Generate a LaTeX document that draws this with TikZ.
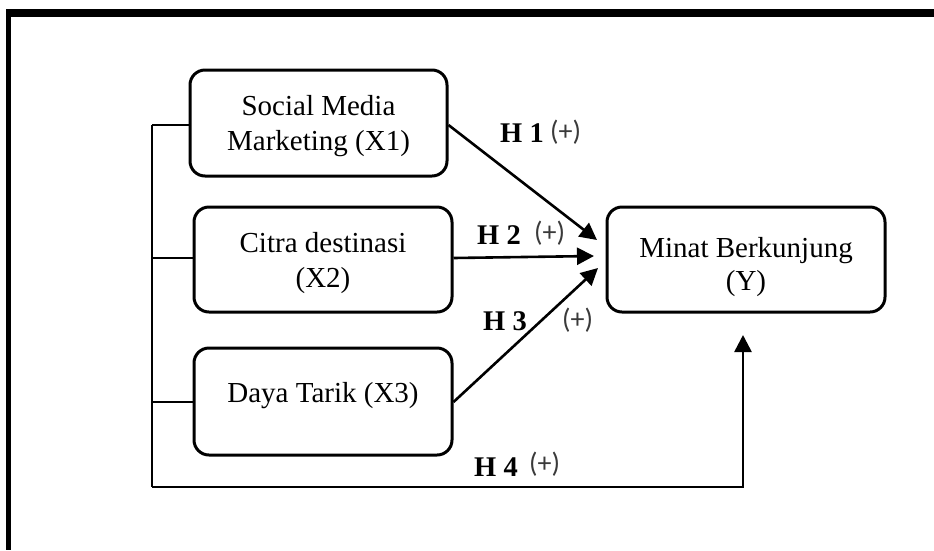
\documentclass[tikz,border=0pt]{standalone}
\usepackage{fontspec}
\setmainfont{Liberation Serif}
\newfontfamily\plusfont{Carlito}
\usetikzlibrary{arrows.meta}
\definecolor{plusgray}{HTML}{3a3a3a}
\begin{document}
\begin{tikzpicture}[x=1pt,y=-1pt,
  varbox/.style={draw, line width=3pt, rounded corners=15pt, inner sep=0pt,
    align=center, font=\fontsize{29}{35}\selectfont},
  conn/.style={line width=2.6pt},
  arr/.style={line width=2.6pt, -{Triangle[length=17pt,width=17pt]}},
  hlab/.style={inner sep=0pt, anchor=base west, font=\fontsize{28.5}{34}\selectfont\bfseries},
  plab/.style={inner sep=0pt, anchor=base west, text=plusgray, font=\fontsize{28}{32}\selectfont\plusfont}]
\useasboundingbox (0,0) rectangle (934,550);
% frame
\fill[black] (6,9) rectangle (934,17);
\fill[black] (6,9) rectangle (11,550);
% boxes
\node[varbox, minimum width=257pt, minimum height=106pt, text height=60pt, text depth=6pt] (x1) at (318.5,123) {Social Media\\Marketing (X1)};
\node[varbox, minimum width=258pt, minimum height=105pt, text height=61pt, text depth=6pt] (x2) at (323,259.5) {Citra destinasi\\(X2)};
\node[varbox, minimum width=258pt, minimum height=107pt, text height=20pt, text depth=19pt] (x3) at (323,401.5) {Daya Tarik (X3)};
\node[varbox, minimum width=278pt, minimum height=105pt, text height=67pt, text depth=6pt, font=\fontsize{29}{33}\selectfont] (y) at (746,259.5) {Minat Berkunjung\\(Y)};
% coordinates
\coordinate (t1) at (152,125);
\coordinate (t2) at (152,258);
\coordinate (t3) at (152,402);
\coordinate (tb) at (152,487);
\coordinate (br) at (743,487);
\coordinate (yt) at (743,335);
\coordinate (e1) at (597,240);
\coordinate (e2) at (594,256);
\coordinate (e3) at (598,268);
% trunk
\draw[conn] (t1) -- (tb);
\draw[conn] (t1) -- (x1.west |- t1);
\draw[conn] (t2) -- (x2.west |- t2);
\draw[conn] (t3) -- (x3.west |- t3);
\draw[arr] (tb) -- (br) -- (yt);
% arrows
\draw[arr] (x1.east |- t1) -- (e1);
\draw[arr] (x2.east |- t2) -- (e2);
\draw[arr] (x3.east |- t3) -- (e3);
% labels
\node[hlab] (h1) at (500,142) {H 1};
\node[plab] (p1) at (550,140) {(+)};
\node[hlab] (h2) at (477,244) {H 2};
\node[plab] (p2) at (534,241) {(+)};
\node[hlab] (h3) at (483,330) {H 3};
\node[plab] (p3) at (562,328) {(+)};
\node[hlab] (h4) at (474,476) {H 4};
\node[plab] (p4) at (529,472) {(+)};
\end{tikzpicture}
\end{document}
